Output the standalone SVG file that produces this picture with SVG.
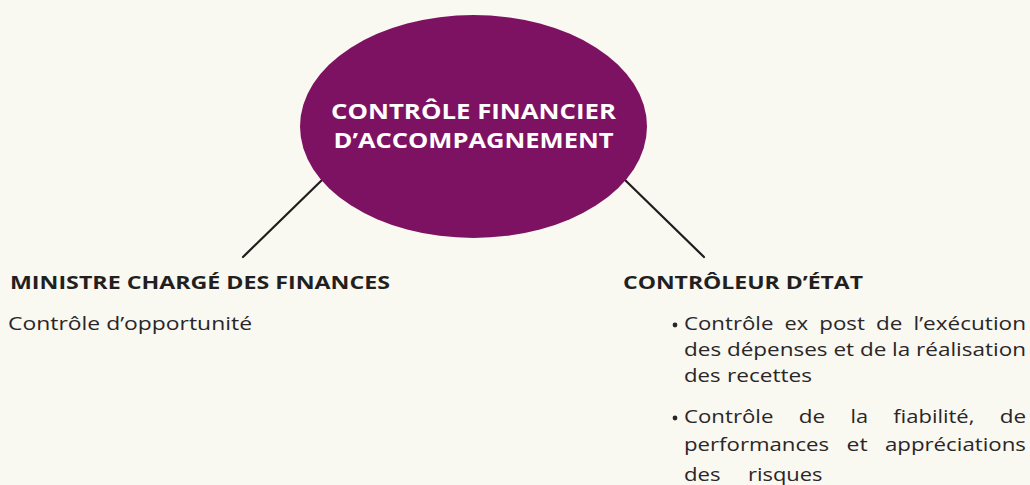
<svg xmlns="http://www.w3.org/2000/svg" width="1030" height="485" viewBox="0 0 1030 485">
  <style>
    .bg { fill: #F9F8F1; }
    .conn { stroke: #1E1E1E; stroke-width: 2.2; stroke-linecap: round; fill: none; }
    .hub { fill: #7E1262; }
    .hubtxt { font-family: "Open Sans", "Liberation Sans", sans-serif; font-weight: 700; font-size: 21.5px; fill: #FFFFFF; text-anchor: middle; }
    .title { font-family: "Open Sans", "Liberation Sans", sans-serif; font-weight: 700; font-size: 18.5px; fill: #231F20; }
    .body { font-family: "Open Sans", "Liberation Sans", sans-serif; font-size: 19px; fill: #2A2627; }
    .dot { fill: #2A2627; }
  </style>
  <rect class="bg" x="0" y="0" width="1030" height="485"/>

  <g id="connectors">
    <line class="conn" x1="322" y1="180" x2="243" y2="257"/>
    <line class="conn" x1="625" y1="180" x2="704" y2="257"/>
  </g>

  <g id="node-hub">
    <ellipse class="hub" cx="473.5" cy="126.5" rx="173.5" ry="111.5"/>
    <text class="hubtxt" x="473.5" y="119" textLength="285" lengthAdjust="spacingAndGlyphs">CONTRÔLE FINANCIER</text>
    <text class="hubtxt" x="473.5" y="148" textLength="280" lengthAdjust="spacingAndGlyphs">D’ACCOMPAGNEMENT</text>
  </g>

  <g id="node-ministre">
    <text class="title" x="10" y="289" textLength="380" lengthAdjust="spacingAndGlyphs">MINISTRE CHARGÉ DES FINANCES</text>
    <text class="body" x="8" y="330" textLength="244" lengthAdjust="spacingAndGlyphs">Contrôle d’opportunité</text>
  </g>

  <g id="node-controleur">
    <text class="title" x="623" y="289" textLength="240" lengthAdjust="spacingAndGlyphs">CONTRÔLEUR D’ÉTAT</text>

    <circle class="dot" cx="675" cy="325" r="2.4"/>
    <text class="body" x="684" y="330" textLength="89.4" lengthAdjust="spacingAndGlyphs">Contrôle</text>
    <text class="body" x="784.6" y="330" textLength="23.6" lengthAdjust="spacingAndGlyphs">ex</text>
    <text class="body" x="819.3" y="330" textLength="45.6" lengthAdjust="spacingAndGlyphs">post</text>
    <text class="body" x="876.1" y="330" textLength="26.4" lengthAdjust="spacingAndGlyphs">de</text>
    <text class="body" x="913.6" y="330" textLength="112.4" lengthAdjust="spacingAndGlyphs">l’exécution</text>
    <text class="body" x="684" y="356" textLength="342" lengthAdjust="spacingAndGlyphs">des dépenses et de la réalisation</text>
    <text class="body" x="684" y="382" textLength="36.6" lengthAdjust="spacingAndGlyphs">des</text>
    <text class="body" x="727" y="382" textLength="85" lengthAdjust="spacingAndGlyphs">recettes</text>

    <circle class="dot" cx="675" cy="418" r="2.4"/>
    <text class="body" x="684" y="423" textLength="89.4" lengthAdjust="spacingAndGlyphs">Contrôle</text>
    <text class="body" x="798.7" y="423" textLength="26.4" lengthAdjust="spacingAndGlyphs">de</text>
    <text class="body" x="850.4" y="423" textLength="17.6" lengthAdjust="spacingAndGlyphs">la</text>
    <text class="body" x="893.3" y="423" textLength="81.1" lengthAdjust="spacingAndGlyphs">fiabilité,</text>
    <text class="body" x="999.7" y="423" textLength="26.4" lengthAdjust="spacingAndGlyphs">de</text>
    <text class="body" x="684" y="451" textLength="145.1" lengthAdjust="spacingAndGlyphs">performances</text>
    <text class="body" x="846.5" y="451" textLength="21.1" lengthAdjust="spacingAndGlyphs">et</text>
    <text class="body" x="884.9" y="451" textLength="141.1" lengthAdjust="spacingAndGlyphs">appréciations</text>
    <text class="body" x="684" y="481" textLength="36.6" lengthAdjust="spacingAndGlyphs">des</text>
    <text class="body" x="748" y="481" textLength="74.5" lengthAdjust="spacingAndGlyphs">risques</text>
  </g>
</svg>
